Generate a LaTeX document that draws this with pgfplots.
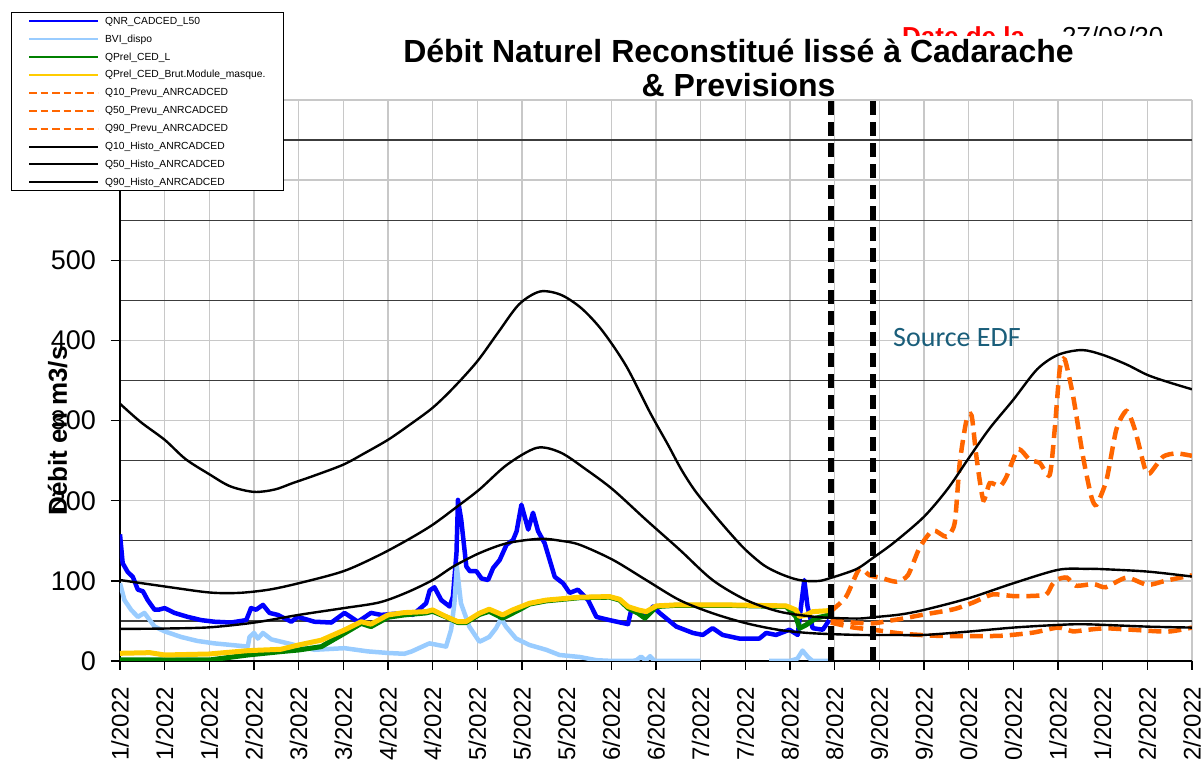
\documentclass[border=0pt]{standalone}
\usepackage{fontspec}
\setmainfont{Liberation Sans}
\newfontfamily\carlito{Carlito}
\usepackage{pgfplots}
\pgfplotsset{compat=1.18}
\definecolor{qnr}{RGB}{0,0,255}
\definecolor{bvi}{RGB}{153,204,255}
\definecolor{qprel}{RGB}{0,128,0}
\definecolor{qbrut}{RGB}{255,204,0}
\definecolor{prev}{RGB}{255,102,0}
\definecolor{gridl}{RGB}{200,200,200}
\definecolor{gridd}{RGB}{60,60,60}
\definecolor{edf}{RGB}{26,94,122}
\begin{document}
\begin{tikzpicture}
\begin{axis}[
  at={(0pt,0pt)}, anchor=south west,
  scale only axis, width=1072pt, height=561pt,
  xmin=0, xmax=360, ymin=0, ymax=700,
  axis lines=left, axis line style={-, black, line width=1.3pt},
  tick align=outside,
  major tick length=9pt, minor tick length=0pt,
  tick style={black, line width=1.3pt},
  xtick={0,15,...,360},
  xticklabels={1/2022,1/2022,1/2022,2/2022,3/2022,3/2022,4/2022,4/2022,5/2022,5/2022,5/2022,6/2022,6/2022,7/2022,7/2022,8/2022,8/2022,9/2022,9/2022,0/2022,0/2022,1/2022,1/2022,2/2022,2/2022},
  ytick={0,100,...,700},
  minor ytick={50,150,...,650},
  xmajorgrids, ymajorgrids, yminorgrids,
  major grid style={gridl, line width=1.3pt},
  minor grid style={gridd, line width=1.3pt},
  tick label style={font=\fontsize{27}{32}\selectfont},
  /pgf/number format/assume math mode=true,
  xticklabel style={rotate=90, anchor=east, inner sep=0pt, xshift=-17pt, font=\fontsize{24}{28}\selectfont},
  yticklabel style={anchor=east, inner sep=0pt, xshift=-15pt},
  ylabel={Débit en m3/s},
  every axis y label/.style={at={(axis description cs:-0.0583,0.41)}, rotate=90, anchor=center, inner sep=0pt, font=\fontsize{26}{30}\selectfont\bfseries},
  unbounded coords=jump,
  legend cell align=left,
  legend image code/.code={\draw[#1, line width=2pt] (0pt,0pt) -- (69pt,0pt);},
  legend style={at={(axis description cs:-0.10196,1.1563)}, anchor=north west,
    draw=black, line width=0.8pt, fill=white,
    font=\fontsize{10.3}{12}\selectfont,
    inner xsep=17pt, inner ysep=2.5pt, row sep=5.9pt, column sep=5pt,
    nodes={inner sep=1pt, text height=8pt, text depth=2pt, anchor=west}},
]
\addplot[qnr, line width=4.5pt, line join=round] coordinates {
(0,158)(0.9,122)(2.6,111)(4.3,105)(6,89)(7.7,87)(9.3,76)(11.6,64)(13,64)(15,66)(18.3,60)(22.8,55)(27.3,51)(31.7,49)(37.3,48)(42.4,51)(44,66)(45.7,64)(48,70)(50.2,60)(53,57.5)(57.5,49)(59.7,55)(65.3,49)(71,48)(75.4,60)(79.9,49)(84.3,60)(87.7,57.5)(95.5,60)(98.3,57.5)(102.8,72)(104,88)(105.6,92)(107.9,76)(110.7,68)(111.8,80)(113,135)(113.5,201)(114.6,176)(116.3,118)(117.5,112)(119.7,112)(121.4,103)(123.6,101)(125.3,116)(127.5,126)(129.8,145)(132,151)(133.2,162)(134.8,195)(137.1,164)(138.7,185)(140.4,162)(142.6,147)(146,105)(148.8,97)(151,85)(153.8,89)(157.2,76)(160,55)(164.4,51)(170.6,46)(171.7,64)(174,60)(176.7,56)(179,68)(181.2,60)(186.8,43)(192.4,35)(195.7,32.5)(199,41)(202.4,32.5)(208,28)(214.7,28)(217,35)(220.3,32.5)(224.8,39)(227.6,32.5)(228.7,68)(229.8,101)(230.9,68)(232.6,41)(236,39)(238.2,51)};
\addlegendentry{QNR\_CADCED\_L50}
\addplot[bvi, line width=4.5pt, line join=round] coordinates {
(0,97)(1.5,76)(3.7,64)(6,55)(8.2,60)(11.6,43)(15,37)(20.5,30)(26,25)(31.7,22)(37.3,20)(42.9,18)(43.5,30)(45,35)(46.3,28)(48,35)(50.8,27)(56.4,22)(60.8,18)(65.3,14)(75.4,16)(83.2,12)(90,10)(95.5,9)(98,12)(103.9,22)(109.5,18)(111.2,39)(112.3,72)(113.1,118)(114.5,72)(117.3,43)(120.7,24)(124,30)(126.3,41)(128,53)(129.6,43)(133,28)(137.5,20)(143.1,14)(147.6,7.5)(154.4,5)(160,1)(165.5,0)(172,0)(173.4,1)(175,5.5)(176.5,0.5)(178,6)(179.5,0)(195,0)(196,nan)(218,0)(225,0)(227.5,3)(229.2,13)(231,5)(232.6,0)(238.5,0)};
\addlegendentry{BVI\_dispo}
\addplot[qprel, line width=5pt, line join=round] coordinates {
(0,1.25)(30,1.25)(42.9,7.5)(54,11.7)(60,13.75)(67.6,17.9)(75.4,34.6)(81,46.9)(84.3,42.9)(90,54.6)(95.5,57.5)(102.8,60)(105,62)(109.5,55)(113.4,48)(116.2,48)(120.7,58)(124,62)(128.5,53.4)(134,63.75)(137.5,71)(143.1,75)(154.4,79)(164.4,79.6)(167.8,76)(170.6,66)(174,59.6)(176.3,53.4)(180.1,67.9)(186.8,69.5)(203.6,69.5)(223.7,68)(227,55.4)(228.2,40.8)(230.4,45)(233.7,53.4)(238.2,57.5)};
\addlegendentry{QPrel\_CED\_L}
\addplot[qbrut, line width=5pt, line join=round] coordinates {
(0,9.6)(10,10.4)(15,7.5)(30,8.75)(42.9,12.9)(54,14.6)(60,20)(67.6,26)(75.4,38.75)(81,49)(84.3,46)(90,57.5)(95.5,60.4)(102.8,61.6)(105,63.75)(109.5,55.4)(113.4,49.2)(116.2,49.2)(120.7,59.6)(124,64.6)(128.5,57.5)(131.9,63.75)(137.5,72)(143.1,76)(154.4,79.6)(164.4,80.4)(167.8,77)(170.6,67.9)(174,63.75)(176.7,61.6)(180.1,68.75)(186.8,70)(203.6,70)(223.7,68.75)(227,63.75)(228.2,55.4)(230.4,57.5)(232.6,61.6)(238.2,62.9)};
\addlegendentry{QPrel\_CED\_Brut.Module\_masque.}
\addplot[prev, line width=4.5pt, dash pattern=on 13pt off 7pt, smooth, tension=0.4, legend image post style={dash pattern=on 7.5pt off 4pt}] coordinates {
(238.7,48)(246,42)(253,39)(263,34)(274,31.5)(285,31)(296,31.5)(306.6,35.4)(315,41.7)(320,37)(324.5,38.75)(331,40.8)(341,38.75)(352,36.7)(360,41.7)};
\addlegendentry{Q10\_Prevu\_ANRCADCED}
\addplot[prev, line width=4.5pt, dash pattern=on 13pt off 7pt, smooth, tension=0.4, legend image post style={dash pattern=on 7.5pt off 4pt}] coordinates {
(238.7,52)(246,48)(253,47)(258,50)(263,53)(270,58)(280,64.6)(286.5,73)(293,83)(300,81)(305,81)(311,83)(313,95)(315,102)(318,104)(321,94)(327,96)(331,92)(338,104)(345,95)(351,100)(360,107)};
\addlegendentry{Q50\_Prevu\_ANRCADCED}
\addplot[prev, line width=4.5pt, dash pattern=on 13pt off 7pt, smooth, tension=0.4, legend image post style={dash pattern=on 7.5pt off 4pt}] coordinates {
(238.7,62)(243.8,80)(248.3,115)(251.7,107)(256.2,103)(260.7,99)(264.6,107)(268.6,142)(273,163)(277.5,155)(280.3,172)(282,247)(284.3,301)(286,306)(287.6,255)(289.9,201)(292.1,222)(295.5,218)(297.7,230)(301.6,264)(305.5,251)(308.9,247)(312.2,232)(313.9,289)(315.6,364)(317.3,376)(320.1,330)(323.4,255)(326.2,205)(327.9,195)(331.3,226)(334.6,289)(338,312)(340.8,289)(344.2,240)(345.8,234)(350.3,255)(354.8,259)(360,256)};
\addlegendentry{Q90\_Prevu\_ANRCADCED}
\addplot[black, line width=2.4pt, smooth] coordinates {
(0,40)(15,40.5)(30,42)(45,47.9)(60,57.5)(75,65.9)(87,73)(96,85)(105,101)(112,118)(120.7,134.6)(130,147)(141,152.5)(148,150)(154.4,145)(165.5,126.25)(176.7,101)(187.9,76)(199,59.6)(210.3,47.1)(221.4,38.75)(232.6,34.6)(248.3,32.5)(260,32.5)(270,32.5)(285,36.7)(300,41.7)(315,45)(324.5,45.8)(345,42.9)(360,41.7)};
\addlegendentry{Q10\_Histo\_ANRCADCED}
\addplot[black, line width=2.4pt, smooth] coordinates {
(0,101)(15,93)(30,85.5)(40,85)(50,89)(60,97)(75,112)(87,132)(97,152)(105,170)(113,192)(120.7,214)(130,245)(140,266)(148,260)(156.5,239)(165.5,214)(176.7,176)(187.9,139)(199,101)(210.3,76)(221.4,61.6)(232.6,55.4)(241,53.5)(248.3,53)(253,54.6)(262,58)(270,63.75)(285,78.3)(300,97)(315,113.75)(324.5,115)(330,114.6)(345,111.6)(360,105.4)};
\addlegendentry{Q50\_Histo\_ANRCADCED}
\addplot[black, line width=2.4pt, smooth] coordinates {
(0,321)(7,298)(15,276)(22,252)(30,233)(37,218)(45,211)(52,214)(58,222)(65,231)(75,245)(82,259)(90,276)(97,294)(105,316)(112,341)(120,374)(127,410)(134,445)(141,461)(148,457)(155,440)(162,412)(170,368)(178,310)(184,270)(188.5,239)(193,213)(199,185)(205,159)(210,139)(216,120)(221,110)(226,103)(230,100)(235,100)(239,104)(244,110)(248,116)(253,129)(260,148)(270,180)(278,215)(285,253)(292,290)(300,326)(308,364)(315,382)(323,388)(330,382)(338,370)(345,357)(352,348)(360,339)};
\addlegendentry{Q90\_Histo\_ANRCADCED}
\addplot[black, line width=6pt, dash pattern=on 14pt off 7pt, forget plot] coordinates {(238.7,0)(238.7,700)};
\addplot[black, line width=6pt, dash pattern=on 14pt off 7pt, forget plot] coordinates {(253,0)(253,700)};
\end{axis}
\begin{scope}
\clip (700pt,625pt) rectangle (1083pt,661pt);
\node[anchor=base west, inner sep=0pt, text=red, font=\fontsize{26}{30}\selectfont\bfseries] at (782pt,615pt) {Date de la};
\node[anchor=base west, inner sep=0pt, font=\fontsize{26}{30}\selectfont] at (942pt,615pt) {27/08/20};
\end{scope}
\node[anchor=base, inner sep=0pt, font=\fontsize{32}{38}\selectfont\bfseries] at (618.5pt,598pt) {Débit Naturel Reconstitué lissé à Cadarache};
\node[anchor=base, inner sep=0pt, font=\fontsize{32}{38}\selectfont\bfseries] at (618.5pt,564pt) {\& Previsions};
\node[anchor=base west, inner sep=0pt, text=edf, font=\carlito\fontsize{28}{32}\selectfont] at (773pt,314.3pt) {Source EDF};
\pgfresetboundingbox
\useasboundingbox (-120pt,-99pt) rectangle (1083pt,661pt);
\end{tikzpicture}
\end{document}
